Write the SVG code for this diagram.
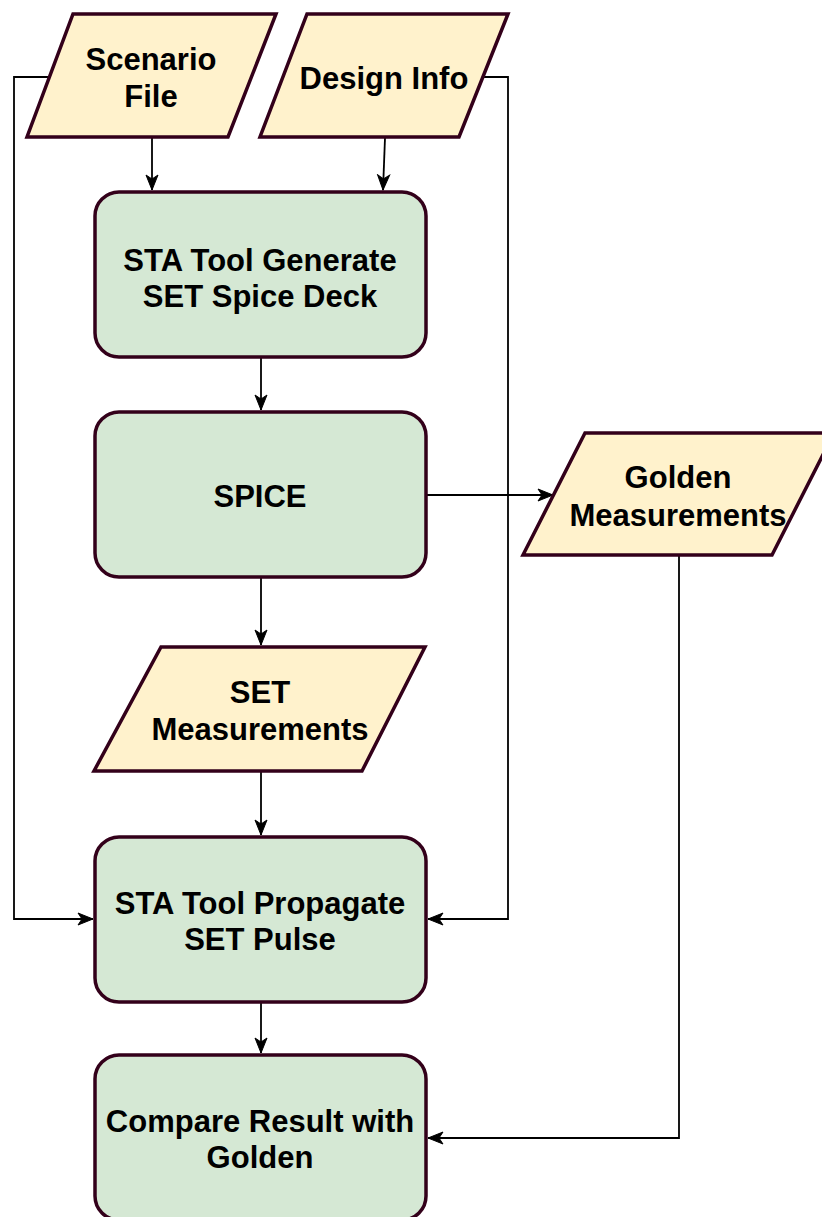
<svg xmlns="http://www.w3.org/2000/svg" width="822" height="1217" viewBox="0 0 822 1217">
  <style>
    .proc { fill: #d5e8d4; stroke: #33001a; stroke-width: 3.5; }
    .data { fill: #fff2cc; stroke: #33001a; stroke-width: 3.5; stroke-linejoin: miter; }
    .label { font-family: "Liberation Sans", Arial, Helvetica, sans-serif; font-weight: bold; font-size: 31px; fill: #000; text-anchor: middle; }
    .edge { fill: none; stroke: #000; stroke-width: 1.8; }
  </style>
  <defs>
    <marker id="arrow" markerUnits="userSpaceOnUse" markerWidth="17" markerHeight="15" refX="16" refY="7.5" orient="auto">
      <path d="M1,1.5 L16,7.5 L1,13.5 L5,7.5 z" fill="#000" stroke="#000" stroke-width="1"/>
    </marker>
  </defs>

  <rect width="822" height="1217" fill="#fff"/>

  <!-- connectors -->
  <g id="connectors">
    <path class="edge" d="M152,137 L152,190" marker-end="url(#arrow)"/>
    <path class="edge" d="M385,138 L383,190" marker-end="url(#arrow)"/>
    <path class="edge" d="M50,77 L14,77 L14,919 L93,919" marker-end="url(#arrow)"/>
    <path class="edge" d="M482,77 L508,77 L508,919 L428,919" marker-end="url(#arrow)"/>
    <path class="edge" d="M261,357 L261,410" marker-end="url(#arrow)"/>
    <path class="edge" d="M426,495 L553,495" marker-end="url(#arrow)"/>
    <path class="edge" d="M261,577 L261,645" marker-end="url(#arrow)"/>
    <path class="edge" d="M261,771 L261,835" marker-end="url(#arrow)"/>
    <path class="edge" d="M261,1002 L261,1053" stroke-width="2.5" marker-end="url(#arrow)"/>
    <path class="edge" d="M679,555 L679,1138 L428,1138" marker-end="url(#arrow)"/>
  </g>

  <!-- input data -->
  <g id="scenario-file">
    <polygon class="data" points="73,14 276,14 228,137 27,137"/>
    <text class="label" x="151" y="70">Scenario</text>
    <text class="label" x="151" y="107">File</text>
  </g>
  <g id="design-info">
    <polygon class="data" points="307,14 508,14 459,137 260,137"/>
    <text class="label" x="384" y="89">Design Info</text>
  </g>

  <!-- process steps -->
  <g id="generate-deck">
    <rect class="proc" x="95" y="192" width="331" height="165" rx="24" ry="24"/>
    <text class="label" x="260" y="271">STA Tool Generate</text>
    <text class="label" x="260" y="307">SET Spice Deck</text>
  </g>
  <g id="spice">
    <rect class="proc" x="95" y="412" width="331" height="165" rx="24" ry="24"/>
    <text class="label" x="260" y="507">SPICE</text>
  </g>
  <g id="golden-measurements">
    <polygon class="data" points="585,433 834,433 772,555 523,555"/>
    <text class="label" x="678" y="488">Golden</text>
    <text class="label" x="678" y="526">Measurements</text>
  </g>
  <g id="set-measurements">
    <polygon class="data" points="161,647 425,647 362,771 94,771"/>
    <text class="label" x="260" y="703">SET</text>
    <text class="label" x="260" y="740">Measurements</text>
  </g>
  <g id="propagate-pulse">
    <rect class="proc" x="95" y="837" width="331" height="165" rx="24" ry="24"/>
    <text class="label" x="260" y="914">STA Tool Propagate</text>
    <text class="label" x="260" y="950">SET Pulse</text>
  </g>
  <g id="compare-result">
    <rect class="proc" x="95" y="1055" width="331" height="165" rx="24" ry="24"/>
    <text class="label" x="260" y="1132">Compare Result with</text>
    <text class="label" x="260" y="1168">Golden</text>
  </g>
</svg>
